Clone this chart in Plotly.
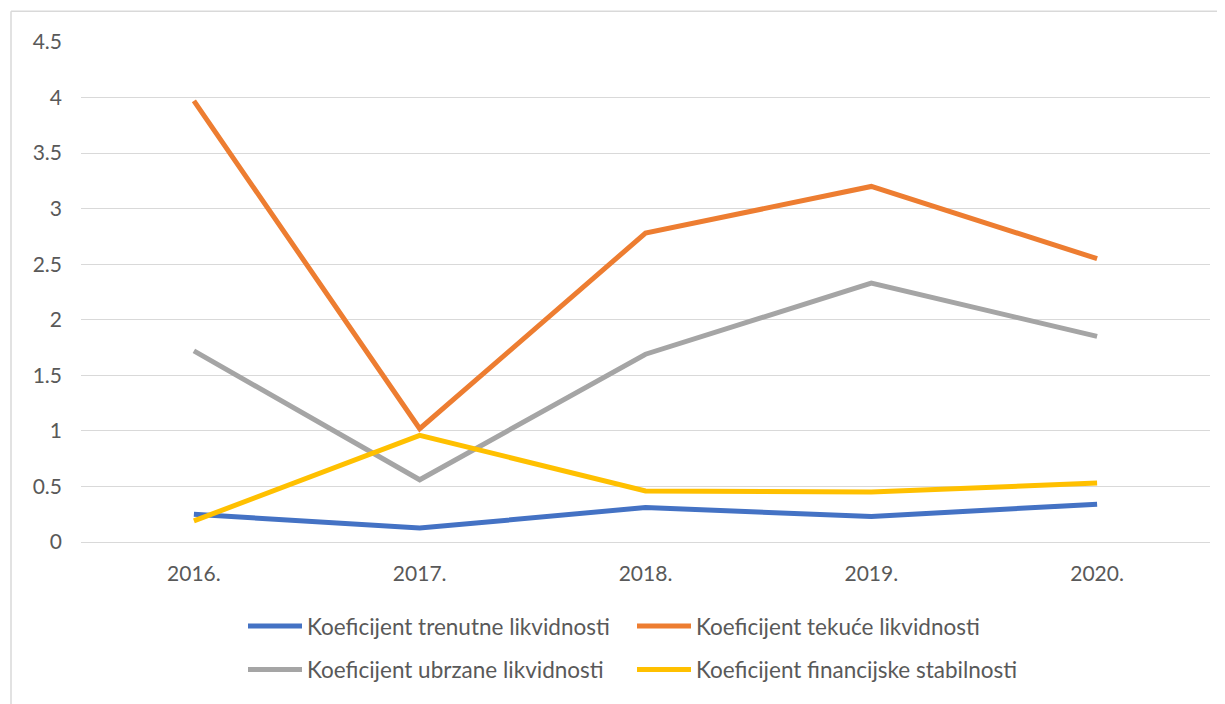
import plotly.graph_objects as go

years = ['2016.', '2017.', '2018.', '2019.', '2020.']
trenutne = [0.25, 0.125, 0.31, 0.23, 0.34]
tekuce = [3.97, 1.02, 2.78, 3.20, 2.55]
ubrzane = [1.72, 0.56, 1.69, 2.33, 1.85]
financijske = [0.19, 0.96, 0.46, 0.45, 0.53]

series = [
    ('Koeficijent trenutne likvidnosti', trenutne, '#4472C4', 'legend'),
    ('Koeficijent tekuće likvidnosti', tekuce, '#ED7D31', 'legend'),
    ('Koeficijent ubrzane likvidnosti', ubrzane, '#A5A5A5', 'legend2'),
    ('Koeficijent financijske stabilnosti', financijske, '#FFC000', 'legend2'),
]

fig = go.Figure()
for name, vals, color, leg in series:
    fig.add_trace(go.Scatter(x=years, y=vals, name=name, mode='lines', legend=leg,
                             line=dict(color=color, width=5)))

# page body has an 8px margin, so work in screen pixels minus that
OFF = 8
W, H = 1225 - OFF, 704 - OFF
L, R, T, B = 81 - OFF, 1210 - OFF, 42 - OFF, 546 - OFF
pw, ph = R - L, B - T


def px(x):
    return (x - OFF - L) / pw


def py(y):
    return (B - (y - OFF)) / ph


legend_style = dict(orientation='h', xanchor='left', yanchor='middle',
                    entrywidth=320, entrywidthmode='pixels', itemwidth=54,
                    font=dict(size=22.5, color='#595959'), bgcolor='rgba(0,0,0,0)')

fig.update_layout(
    width=W, height=H,
    margin=dict(l=L, r=W - R, t=T, b=H - B),
    paper_bgcolor='white', plot_bgcolor='white',
    font=dict(family='Lato, Open Sans, sans-serif', size=21, color='#595959'),
    xaxis=dict(showgrid=False, showline=False, ticks='', tickfont=dict(size=21),
               range=[-0.5, 4.5], ticklabelstandoff=17),
    yaxis=dict(range=[0, 4.5], dtick=0.5, showgrid=True, gridcolor='#D9D9D9',
               gridwidth=1.3, zeroline=True, zerolinecolor='#D9D9D9',
               zerolinewidth=1.3, showline=False, ticks='', tickfont=dict(size=21),
               tickformat='~g', ticklabelstandoff=18),
    legend=dict(legend_style, x=px(243), y=py(631)),
    legend2=dict(legend_style, x=px(243), y=py(675)),
    showlegend=True,
)

# chart frame (left and top edges visible in the crop)
fig.add_shape(type='line', xref='paper', yref='paper',
              x0=px(11), x1=px(11), y0=py(11), y1=py(720),
              line=dict(color='#D9D9D9', width=1.5))
fig.add_shape(type='line', xref='paper', yref='paper',
              x0=px(11), x1=px(1240), y0=py(11), y1=py(11),
              line=dict(color='#D9D9D9', width=1.5))

fig.write_html('out.html')
